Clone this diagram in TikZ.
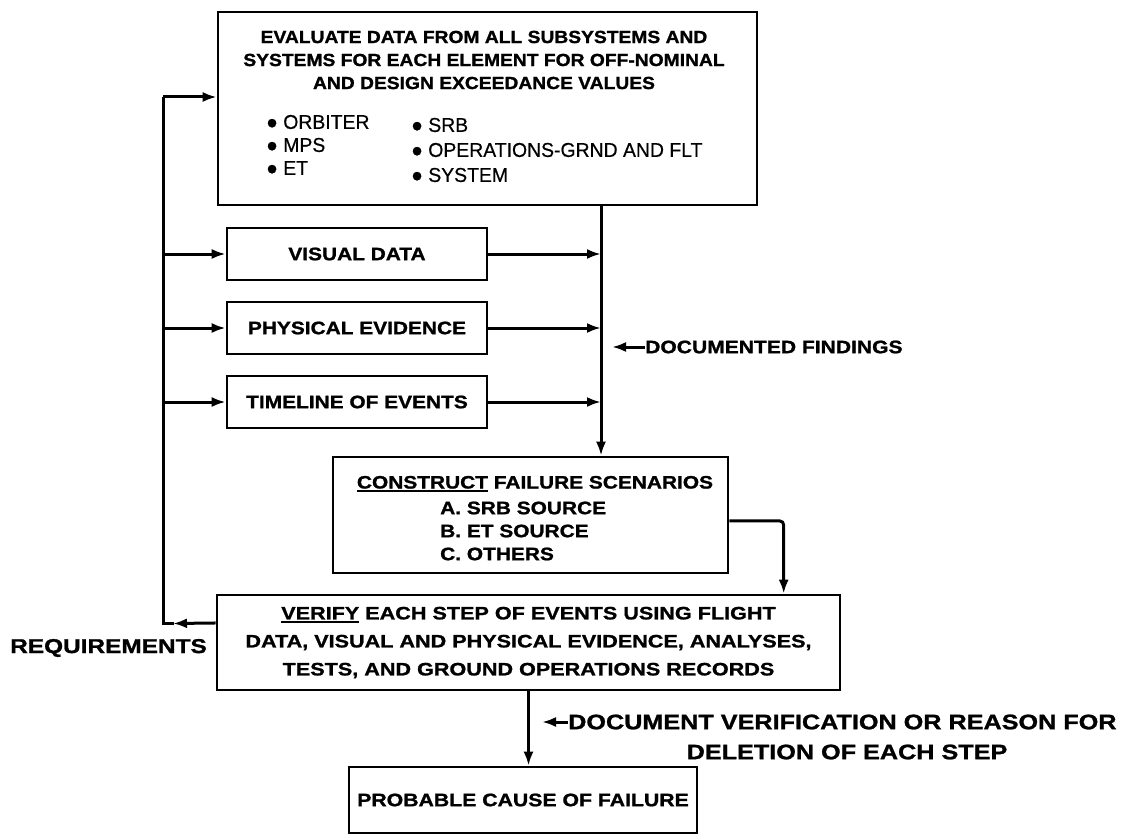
\documentclass[tikz,border=0pt]{standalone}
\usepackage{fontspec}
\setmainfont{Liberation Sans}
\usetikzlibrary{arrows.meta,calc}
\newcommand\myul[1]{\setbox0\hbox{#1}\rlap{\rule[-3.5pt]{\wd0}{1.8pt}}\box0\relax}
\newcommand\fs[3]{\fontsize{#2}{#3}\selectfont\bfseries\addfontfeatures{FakeStretch=#1,FakeBold=1.2}}
\newcommand\bul{●}
\tikzset{
  box/.style={draw, line width=2.6pt, inner sep=0pt},
  conn/.style={line width=3pt},
  arr/.style={conn, -{Latex[length=14pt,width=10pt]}},
  lbl/.style={font=\fs{1.16}{18}{23}, inner sep=0pt},
  item/.style={font=\fontsize{20}{22}\selectfont\addfontfeatures{FakeStretch=0.97,FakeBold=0.5}, inner sep=0pt, anchor=west},
}
\begin{document}
\begin{tikzpicture}[x=1pt,y=-1pt]
\useasboundingbox (0,0) rectangle (1135,840);
\fill[white] (0,0) rectangle (1135,840);

% top box
\node[box, minimum width=539pt, minimum height=193pt] (top) at (487.5,108.5) {};
\node[font=\fs{1.1}{17.5}{23}, align=center, inner sep=0pt] (head) at (484,60)
  {EVALUATE DATA FROM ALL SUBSYSTEMS AND\\SYSTEMS FOR EACH ELEMENT FOR OFF-NOMINAL\\AND DESIGN EXCEEDANCE VALUES};
\node[item] (b1) at (266,122) {\bul\ ORBITER};
\node[item] (b2) at (266,145) {\bul\ MPS};
\node[item] (b3) at (266,168) {\bul\ ET};
\node[item] (b4) at (411,125) {\bul\ SRB};
\node[item] (b5) at (411,150) {\bul\ OPERATIONS-GRND AND FLT};
\node[item] (b6) at (411,175) {\bul\ SYSTEM};

% middle boxes
\node[box, lbl, minimum width=260pt, minimum height=52pt] (vis) at (357,254) {VISUAL DATA};
\node[box, lbl, minimum width=260pt, minimum height=52pt] (phy) at (357,328) {PHYSICAL EVIDENCE};
\node[box, lbl, minimum width=260pt, minimum height=52pt] (tim) at (357,402) {TIMELINE OF EVENTS};

% construct
\node[box, minimum width=395pt, minimum height=116pt] (con) at (530.5,515) {};
\node[lbl] (c1) at (535,484) {\myul{CONSTRUCT} FAILURE SCENARIOS};
\node[lbl, anchor=west] (c2) at (440,508) {A. SRB SOURCE};
\node[lbl, anchor=west] (c3) at (440,531) {B. ET SOURCE};
\node[lbl, anchor=west] (c4) at (440,554) {C. OTHERS};

% verify
\node[box, minimum width=623pt, minimum height=95pt, font=\fs{1.2}{18}{28}, align=center] (ver) at (528.5,642.5)
  {\myul{VERIFY} EACH STEP OF EVENTS USING FLIGHT\\DATA, VISUAL AND PHYSICAL EVIDENCE, ANALYSES,\\TESTS, AND GROUND OPERATIONS RECORDS};

% probable
\node[box, font=\fs{1.18}{18}{22}, minimum width=348pt, minimum height=66pt] (pro) at (523,800) {PROBABLE CAUSE OF FAILURE};

% labels
\node[font=\fs{1.22}{20}{24}, anchor=east, inner sep=0pt] (req) at (207,648) {REQUIREMENTS};
\node[font=\fs{1.17}{18}{22}, anchor=west, inner sep=0pt] (fnd) at (645,347) {DOCUMENTED FINDINGS};
\node[font=\fs{1.2}{21}{30}, anchor=west, inner sep=0pt] (dv1) at (568,722) {DOCUMENT VERIFICATION OR REASON FOR};
\node[font=\fs{1.2}{21}{30}, inner sep=0pt] (dv2) at (847,752) {DELETION OF EACH STEP};

% left bus
\coordinate (tl) at (163,97);
\coordinate (bl) at (163,623.5);
\coordinate (vl) at ($(ver.north west)!0.3!(ver.south west)$);
\draw[arr] (vl) -- ($(bl)+(10,0)$);
\draw[conn] ($(bl)+(11,0)$) -- (bl) -- (tl);
\draw[arr] (tl) -- (tl -| top.west);
\draw[arr] (tl |- vis.west) -- (vis.west);
\draw[arr] (tl |- phy.west) -- (phy.west);
\draw[arr] (tl |- tim.west) -- (tim.west);

% right bus
\coordinate (rb) at (601,300);
\draw[arr] (rb |- top.south) -- (rb |- con.north);
\draw[arr] (vis.east) -- (vis.east -| rb);
\draw[arr] (phy.east) -- (phy.east -| rb);
\draw[arr] (tim.east) -- (tim.east -| rb);

% construct -> verify
\coordinate (ce) at ($(con.north east)!0.55!(con.south east)$);
\draw[arr, rounded corners=4pt] (ce) -| ($(ver.north west)+(568,0)$);

% verify -> probable
\draw[arr] (ver.south) -- (ver.south |- pro.north);

% side arrows
\draw[arr] (fnd.west) -- ++(-33,0);
\draw[arr] (dv1.west) -- ++(-26,0);
\end{tikzpicture}
\end{document}
